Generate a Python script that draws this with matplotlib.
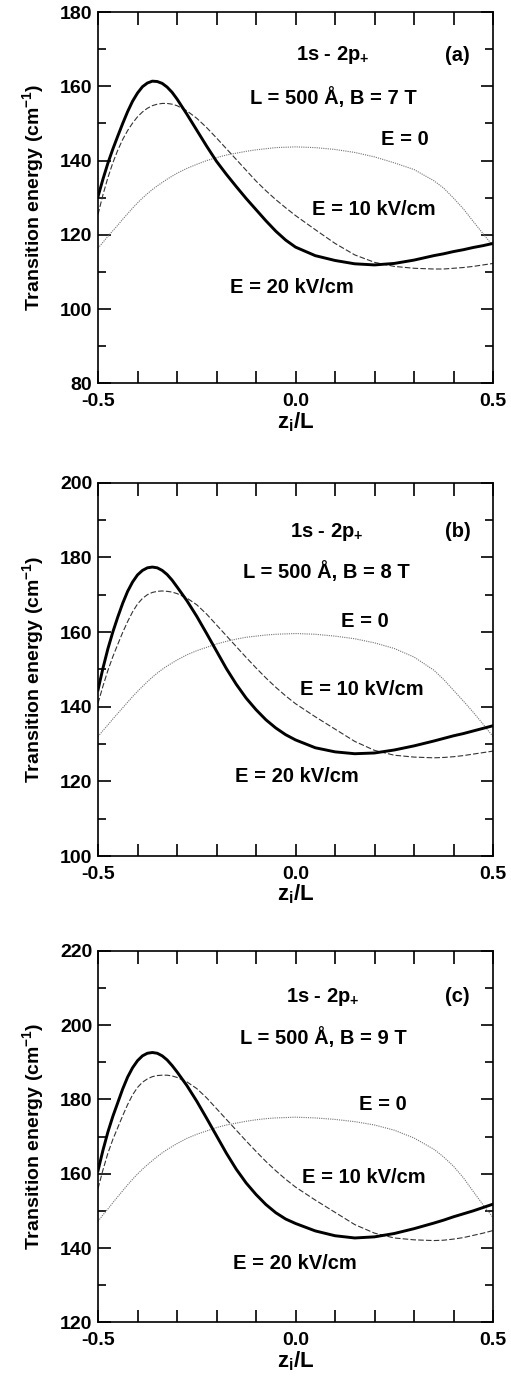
import numpy as np
import matplotlib.pyplot as plt
from matplotlib.ticker import MultipleLocator, FixedLocator

plt.rcParams['font.family'] = ['Liberation Sans', 'DejaVu Sans']
plt.rcParams['font.weight'] = 'bold'
plt.rcParams['mathtext.fontset'] = 'custom'
plt.rcParams['mathtext.rm'] = 'Liberation Sans:bold'
plt.rcParams['mathtext.bf'] = 'Liberation Sans:bold'
plt.rcParams['mathtext.it'] = 'Liberation Sans:bold'
plt.rcParams['mathtext.default'] = 'bf'

# impurity position z_i/L
z = [-0.5, -0.4875, -0.475, -0.4625, -0.45, -0.4375, -0.425, -0.4125, -0.4, -0.3875,
     -0.375, -0.3625, -0.35, -0.3375, -0.325, -0.3125, -0.3, -0.275, -0.25, -0.225,
     -0.2, -0.175, -0.15, -0.125, -0.1, -0.075, -0.05, -0.025, 0.0, 0.05,
     0.1, 0.15, 0.2, 0.25, 0.3, 0.35, 0.375, 0.4, 0.425, 0.45, 0.475, 0.5]

# (a) B = 7 T
a_e0 = [116.4, 118.0, 119.6, 121.1, 122.6, 124.2, 125.7, 127.2, 128.6, 129.9,
        131.1, 132.2, 133.2, 134.1, 135.0, 135.8, 136.6, 137.9, 139.0, 140.0,
        140.8, 141.5, 142.0, 142.5, 142.9, 143.2, 143.5, 143.6, 143.7, 143.5,
        143.0, 142.2, 141.0, 139.4, 137.6, 134.6, 132.6, 129.9, 127.0, 123.6, 120.3, 117.0]
a_e10 = [125.5, 130.8, 135.4, 139.4, 142.8, 145.7, 148.1, 150.1, 151.8, 153.1,
         154.1, 154.8, 155.2, 155.4, 155.4, 155.2, 154.8, 153.4, 151.4, 148.9,
         146.1, 143.2, 140.3, 137.4, 134.5, 131.9, 129.5, 127.3, 125.2, 121.4,
         117.7, 114.6, 112.6, 111.5, 111.0, 110.8, 110.8, 111.0, 111.2, 111.5, 111.9, 112.3]
a_e20 = [130.3, 135.0, 139.3, 143.1, 146.6, 150.0, 153.2, 156.0, 158.2, 159.9,
         160.9, 161.4, 161.3, 160.8, 159.8, 158.4, 156.6, 152.5, 148.2, 143.9,
         139.8, 136.3, 133.0, 129.8, 126.8, 123.8, 121.0, 118.6, 116.7, 114.4,
         113.1, 112.2, 111.9, 112.3, 113.2, 114.4, 114.9, 115.5, 116.0, 116.6, 117.1, 117.7]

# (b) B = 8 T
b_e0 = [132.0, 133.6, 135.1, 136.7, 138.2, 139.7, 141.2, 142.7, 144.1, 145.4,
        146.7, 147.9, 149.0, 150.0, 150.9, 151.7, 152.5, 153.9, 155.0, 155.9,
        156.8, 157.5, 158.1, 158.6, 158.9, 159.2, 159.4, 159.5, 159.6, 159.4,
        158.9, 158.2, 157.1, 155.6, 153.3, 149.8, 147.3, 144.4, 141.5, 138.5, 135.3, 132.0]
b_e10 = [140.9, 145.5, 149.7, 153.4, 156.7, 159.9, 162.8, 165.4, 167.5, 169.0,
         170.0, 170.6, 170.9, 171.0, 170.9, 170.7, 170.3, 169.1, 167.3, 164.8,
         161.9, 159.0, 156.1, 153.2, 150.4, 147.7, 145.2, 142.9, 140.8, 137.3,
         134.0, 130.7, 128.3, 127.0, 126.5, 126.3, 126.4, 126.6, 126.9, 127.3, 127.7, 128.1]
b_e20 = [144.5, 150.3, 155.5, 160.0, 164.0, 167.7, 170.9, 173.4, 175.3, 176.5,
         177.2, 177.4, 177.2, 176.5, 175.4, 173.9, 172.1, 168.4, 164.2, 159.6,
         154.9, 150.2, 146.0, 142.3, 139.2, 136.5, 134.3, 132.5, 131.1, 129.0,
         127.9, 127.4, 127.6, 128.4, 129.5, 130.8, 131.5, 132.2, 132.8, 133.5, 134.2, 134.9]

# (c) B = 9 T
c_e0 = [147.2, 148.9, 150.5, 152.2, 153.8, 155.4, 157.0, 158.5, 159.9, 161.2,
        162.4, 163.5, 164.6, 165.6, 166.5, 167.3, 168.1, 169.5, 170.6, 171.5,
        172.4, 173.1, 173.6, 174.1, 174.5, 174.8, 175.0, 175.1, 175.2, 175.0,
        174.6, 174.0, 173.1, 171.7, 169.6, 166.6, 164.5, 162.0, 158.9, 155.2, 151.6, 148.2]
c_e10 = [156.0, 161.0, 165.5, 169.2, 172.4, 175.6, 178.6, 181.2, 183.2, 184.6,
         185.5, 186.1, 186.4, 186.5, 186.5, 186.3, 185.9, 184.7, 182.9, 180.4,
         177.5, 174.6, 171.7, 168.8, 166.0, 163.3, 160.8, 158.5, 156.4, 152.9,
         149.6, 146.3, 144.0, 142.7, 142.2, 142.0, 142.1, 142.4, 142.8, 143.4, 144.0, 144.7]
c_e20 = [160.8, 166.3, 171.2, 175.4, 179.1, 182.8, 186.0, 188.5, 190.4, 191.7,
         192.4, 192.6, 192.4, 191.7, 190.6, 189.1, 187.4, 183.7, 179.5, 174.9,
         170.2, 165.5, 161.2, 157.5, 154.4, 151.7, 149.5, 147.8, 146.6, 144.6,
         143.3, 142.7, 143.0, 143.9, 145.2, 146.7, 147.5, 148.4, 149.2, 150.0, 150.9, 151.8]

panel_tags = ['(a)', '(b)', '(c)']
fields = ['7', '8', '9']
ylims = [(80, 180), (100, 200), (120, 220)]

fig = plt.figure(figsize=(5.11, 13.76), dpi=100)
boxes = [[0.1918, 0.7214, 0.773, 0.2698],
         [0.1918, 0.3779, 0.773, 0.2713],
         [0.1918, 0.0390, 0.773, 0.2701]]
# label positions (axes fraction) for E = 0, 10, 20 in each panel
lab_pos = [[(0.777, 0.657), (0.697, 0.467), (0.49, 0.259)],
           [(0.676, 0.628), (0.668, 0.445), (0.503, 0.213)],
           [(0.722, 0.585), (0.672, 0.390), (0.499, 0.159)]]
head_y = [(0.884, 0.770), (0.869, 0.762), (0.876, 0.767)]
head_x = [0.595, 0.579, 0.570]

data = [(a_e0, a_e10, a_e20), (b_e0, b_e10, b_e20), (c_e0, c_e10, c_e20)]

for i in range(3):
    ax = fig.add_axes(boxes[i])
    e0, e10, e20 = data[i]
    ax.plot(z, e0, color='0.45', lw=0.8, linestyle=(0, (1, 1)))
    ax.plot(z, e10, color='0.2', lw=0.8, linestyle=(0, (5, 2)))
    ax.plot(z, e20, color='black', lw=2.1, solid_joinstyle='round')

    ax.set_xlim(-0.5, 0.5)
    ax.set_ylim(*ylims[i])
    ax.xaxis.set_major_locator(FixedLocator([-0.5, 0.0, 0.5]))
    ax.xaxis.set_minor_locator(MultipleLocator(0.1))
    ax.yaxis.set_major_locator(MultipleLocator(20))
    ax.yaxis.set_minor_locator(MultipleLocator(10))
    ax.set_xticklabels(['-0.5', '0.0', '0.5'])
    ax.tick_params(which='both', direction='in', top=True, right=True, width=1.2, labelsize=14)
    ax.tick_params(axis='x', which='both', length=9, pad=7)
    ax.tick_params(axis='y', which='major', length=9, pad=4)
    ax.tick_params(axis='y', which='minor', length=6)
    for sp in ax.spines.values():
        sp.set_linewidth(1.2)

    ax.set_ylabel('Transition energy (cm$^{-1}$)', fontsize=14, fontweight='bold', labelpad=10)
    ax.set_xlabel('z$_{i}$/L', fontsize=16, fontweight='bold', labelpad=0)

    ax.text(head_x[i], head_y[i][0], '1s - 2p$_{+}$', transform=ax.transAxes,
            fontsize=14.5, ha='center', va='center')
    ax.text(0.91, head_y[i][0], panel_tags[i], transform=ax.transAxes,
            fontsize=14.5, ha='center', va='center')
    ax.text(head_x[i], head_y[i][1], 'L = 500 Å, B = ' + fields[i] + ' T', transform=ax.transAxes,
            fontsize=14.5, ha='center', va='center')
    for txt, (px, py) in zip(['E = 0', 'E = 10 kV/cm', 'E = 20 kV/cm'], lab_pos[i]):
        ax.text(px, py, txt, transform=ax.transAxes, fontsize=14.5, ha='center', va='center')

fig.savefig('out.png', dpi=100)
